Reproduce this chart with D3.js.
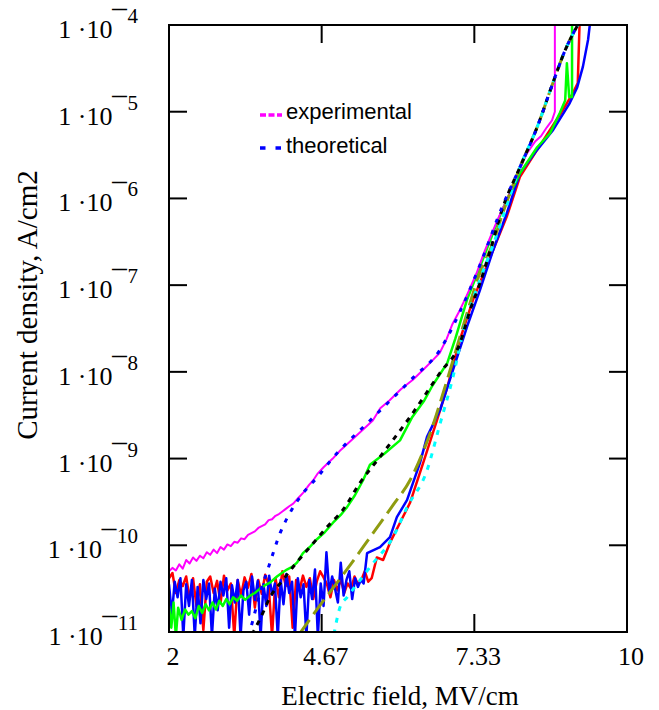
<!DOCTYPE html>
<html>
<title>Current density vs electric field</title>
<style>
  body { margin: 0px; background: white; }
  .frame { fill: none; stroke: black; stroke-width: 2; }
  .tick { stroke: black; stroke-width: 2; }
  .serif { font-family: "Liberation Serif", "Times New Roman", serif; fill: black; }
  .legend { font-family: "Liberation Sans", Arial, sans-serif; font-size: 22px; fill: black; }
  path.curve { fill: none; stroke-linejoin: round; }
</style>
<script src="https://d3js.org/d3.v7.min.js"></script>
<svg width="659" height="710"></svg>
<script>

// tick values
const xTickVals = [2, 4.6667, 7.3333, 10];
const xTickText = ["2", "4.67", "7.33", "10"];
const yTickExp = [-4, -5, -6, -7, -8, -9, -10, -11];

// data: [E (MV/cm), log10 J (A/cm2)]
const redExp = [
  [2.00,-10.38],[2.06,-10.32],[2.12,-10.55],[2.18,-10.40],[2.24,-10.47],[2.30,-10.36],
  [2.36,-10.62],[2.42,-10.38],[2.48,-10.70],[2.54,-10.45],[2.60,-10.98],[2.66,-10.42],
  [2.72,-10.36],[2.78,-10.55],[2.84,-10.41],[2.90,-10.67],[2.96,-10.35],[3.02,-10.52],
  [3.08,-10.44],[3.14,-11.05],[3.20,-10.40],[3.26,-10.58],[3.32,-10.37],[3.38,-10.49],
  [3.44,-10.33],[3.50,-10.72],[3.56,-10.40],[3.62,-10.56],[3.68,-10.34],[3.74,-10.45],
  [3.80,-11.05],[3.86,-10.38],[3.92,-10.60],[3.98,-10.30],[4.04,-10.47],[4.10,-10.36],
  [4.16,-10.95],[4.22,-10.40],[4.28,-10.52],[4.34,-10.35],[4.40,-10.48],[4.46,-10.38],
  [4.52,-10.62],[4.58,-10.42],[4.64,-10.30],[4.70,-10.37],[4.76,-10.45],[4.82,-10.60],
  [4.88,-10.40],[4.94,-10.52],[5.00,-10.39],[5.06,-10.55],[5.12,-10.44],[5.18,-10.50],
  [5.24,-10.36],[5.30,-10.45],[5.36,-10.40],[5.42,-10.30],[5.48,-10.42],[5.54,-10.38],
  [5.63,-10.14],[5.74,-10.17],[5.86,-9.97],[6.035,-9.74],[6.21,-9.51],[6.44,-9.05],
  [6.68,-8.56],[6.86,-8.18],[7.08,-7.63],[7.31,-7.17],[7.61,-6.68],[7.90,-6.21],
  [8.13,-5.75],[8.43,-5.44],[8.655,-5.21],[8.88,-4.98],[9.06,-4.78],[9.14,-4.67],
  [9.18,-3.80]
];

const blueExp = [
  [2.00,-10.45],[2.05,-10.80],[2.10,-10.42],[2.15,-10.60],[2.20,-10.38],[2.25,-11.05],
  [2.30,-10.45],[2.35,-10.70],[2.40,-10.40],[2.45,-11.05],[2.50,-10.48],[2.55,-10.90],
  [2.60,-10.40],[2.65,-10.62],[2.70,-10.44],[2.75,-11.05],[2.80,-10.50],[2.85,-10.75],
  [2.90,-10.42],[2.95,-10.58],[3.00,-10.38],[3.05,-10.95],[3.10,-10.46],[3.15,-10.66],
  [3.20,-10.40],[3.25,-11.05],[3.30,-10.52],[3.35,-10.42],[3.40,-10.80],[3.45,-10.36],
  [3.50,-10.63],[3.55,-10.41],[3.60,-11.05],[3.65,-10.45],[3.70,-10.70],[3.75,-10.35],
  [3.80,-10.57],[3.85,-10.44],[3.90,-11.05],[3.95,-10.40],[4.00,-10.68],[4.05,-10.33],
  [4.10,-10.55],[4.15,-10.42],[4.20,-11.05],[4.25,-10.38],[4.30,-10.60],[4.35,-10.45],
  [4.40,-11.05],[4.45,-10.40],[4.50,-10.62],[4.55,-10.28],[4.60,-11.05],[4.65,-10.44],
  [4.70,-10.70],[4.75,-10.08],[4.80,-10.55],[4.85,-10.36],[4.90,-10.50],[4.95,-10.66],
  [5.00,-10.20],[5.05,-10.58],[5.10,-10.40],[5.15,-10.30],[5.20,-10.62],[5.25,-10.38],
  [5.30,-10.48],[5.35,-10.40],[5.40,-10.44],
  [5.46,-10.09],[5.686,-10.02],[5.86,-9.905],[5.98,-9.675],[6.157,-9.48],[6.384,-9.05],
  [6.507,-8.75],[6.734,-8.44],[6.96,-7.98],[7.205,-7.48],[7.43,-7.06],[7.66,-6.60],
  [7.90,-6.17],[8.13,-5.71],[8.43,-5.44],[8.71,-5.21],[9.00,-4.90],[9.13,-4.72],
  [9.23,-4.48],[9.32,-4.17],[9.35,-4.00],[9.38,-3.80]
];

const greenExp = [
  [2.00,-10.70],[2.04,-10.95],[2.08,-10.66],[2.12,-11.05],[2.16,-10.72],[2.22,-10.86],
  [2.28,-10.74],[2.34,-10.80],[2.40,-10.76],[2.46,-10.84],[2.52,-10.70],[2.58,-10.78],
  [2.64,-10.68],[2.70,-10.75],[2.76,-10.66],[2.82,-10.74],[2.88,-10.64],[2.94,-10.70],
  [3.00,-10.62],[3.06,-10.68],[3.12,-10.60],[3.19,-10.64],[3.26,-10.58],[3.33,-10.63],
  [3.415,-10.58],[3.50,-10.55],[3.59,-10.50],[3.68,-10.46],[3.764,-10.43],[3.886,-10.36],
  [3.97,-10.32],[4.06,-10.28],[4.15,-10.25],[4.236,-10.20],[4.34,-10.09],[4.46,-10.02],
  [4.585,-9.93],[4.72,-9.85],[4.865,-9.74],[5.00,-9.65],[5.11,-9.56],[5.25,-9.42],
  [5.39,-9.25],[5.51,-9.07],[5.75,-8.95],[6.035,-8.79],[6.25,-8.52],[6.45,-8.34],
  [6.60,-8.16],[6.86,-7.90],[7.00,-7.62],[7.205,-7.17],[7.43,-6.79],[7.66,-6.40],
  [7.83,-6.12],[8.13,-5.71],[8.43,-5.41],[8.655,-5.25],[8.83,-5.01],[8.92,-4.87],
  [8.95,-4.44],[8.99,-4.83],[9.04,-4.83],[9.04,-3.80]
];

const magentaExp = [
  [2.00,-10.30],[2.06,-10.26],[2.12,-10.29],[2.18,-10.22],[2.24,-10.27],[2.30,-10.17],
  [2.36,-10.21],[2.42,-10.14],[2.48,-10.18],[2.54,-10.12],[2.60,-10.15],[2.66,-10.08],
  [2.72,-10.11],[2.78,-10.05],[2.84,-10.09],[2.90,-10.02],[2.96,-10.05],[3.02,-9.99],
  [3.08,-10.01],[3.14,-9.96],[3.20,-9.97],[3.26,-9.92],[3.32,-9.93],[3.38,-9.88],
  [3.44,-9.86],[3.50,-9.84],[3.56,-9.80],[3.62,-9.78],[3.68,-9.76],[3.74,-9.71],
  [3.80,-9.70],[3.86,-9.66],[3.92,-9.64],[3.98,-9.61],[4.04,-9.58],[4.10,-9.55],
  [4.17,-9.52],[4.25,-9.46],[4.35,-9.39],[4.45,-9.30],[4.52,-9.25],[4.60,-9.17],
  [4.70,-9.10],[4.86,-9.00],[5.00,-8.90],[5.20,-8.78],[5.40,-8.66],[5.56,-8.56],
  [5.69,-8.42],[5.85,-8.33],[6.05,-8.20],[6.26,-8.09],[6.45,-7.97],[6.60,-7.87],
  [6.73,-7.78],[6.85,-7.62],[6.95,-7.45],[7.08,-7.29],[7.20,-7.12],[7.30,-6.97],
  [7.38,-6.85],[7.50,-6.63],[7.61,-6.45],[7.75,-6.23],[7.90,-6.02],[8.05,-5.78],
  [8.25,-5.48],[8.40,-5.34],[8.50,-5.28],[8.60,-5.18],[8.69,-5.10],[8.74,-5.00],
  [8.74,-3.80]
];

const blueTheory = [
  [3.38,-11.05],[3.415,-10.98],[3.59,-10.55],[3.76,-10.21],[3.94,-9.86],[4.11,-9.63],
  [4.34,-9.40],[4.585,-9.22],[4.865,-8.99],[5.56,-8.53],[6.26,-8.07],[6.73,-7.75],
  [7.08,-7.31],[7.43,-6.77],[7.83,-6.08],[8.13,-5.64],[8.43,-5.18],[8.71,-4.66],
  [8.92,-4.29],[9.14,-4.00]
];

const blackTheory = [
  [3.45,-11.03],[3.64,-10.78],[3.764,-10.60],[3.99,-10.40],[4.166,-10.25],[4.463,-10.02],
  [4.76,-9.79],[5.04,-9.59],[5.336,-9.28],[5.686,-8.98],[6.21,-8.52],[6.734,-8.01],
  [7.083,-7.67],[7.258,-7.29],[7.43,-6.98],[7.61,-6.60],[7.834,-6.10],[8.13,-5.64],
  [8.43,-5.18],[8.71,-4.66],[8.92,-4.29],[9.14,-4.00]
];

const oliveTheory = [
  [4.27,-11.03],[4.64,-10.69],[5.04,-10.34],[5.51,-9.91],[5.91,-9.54],[6.21,-9.25],
  [6.56,-8.71],[6.86,-8.09],[7.135,-7.48],[7.43,-6.86],[7.66,-6.51],[7.83,-6.17],
  [8.13,-5.64],[8.43,-5.18],[8.71,-4.66],[8.92,-4.29],[9.14,-4.00]
];

const cyanTheory = [
  [4.88,-11.03],[4.99,-10.71],[5.11,-10.60],[5.34,-10.40],[5.56,-10.21],[5.91,-9.91],
  [6.16,-9.56],[6.51,-9.13],[6.73,-8.61],[6.96,-8.06],[7.135,-7.55],[7.43,-6.94],
  [7.66,-6.54],[7.90,-6.08],[8.13,-5.64],[8.43,-5.18],[8.71,-4.66],[8.92,-4.29],
  [9.14,-4.00]
];

const margin = {top: 25, right: 32, bottom: 78, left: 169};
const W = 659, H = 710;
const w = W - margin.left - margin.right;
const h = H - margin.top - margin.bottom;

const svg = d3.select("svg");

const x = d3.scaleLinear().domain([2, 10]).range([margin.left, margin.left + w]);
const y = d3.scaleLog().domain([1e-11, 1e-4]).range([margin.top + h, margin.top]);

svg.append("clipPath").attr("id", "plotclip")
  .append("rect")
    .attr("x", margin.left).attr("y", margin.top)
    .attr("width", w).attr("height", h);

const line = d3.line()
    .x(d => x(d[0]))
    .y(d => y(Math.pow(10, d[1])));

const smooth = d3.line()
    .curve(d3.curveMonotoneX)
    .x(d => x(d[0]))
    .y(d => y(Math.pow(10, d[1])));

const plot = svg.append("g").attr("clip-path", "url(#plotclip)");

function addCurve(data, gen, color, width, dash) {
  plot.append("path")
      .datum(data)
      .attr("class", "curve")
      .attr("d", gen)
      .style("stroke", color)
      .style("stroke-width", width)
      .style("stroke-dasharray", dash || null);
}

// experimental
addCurve(redExp, line, "#ff0000", 2.5);
addCurve(blueExp, line, "#0000ff", 2.5);
addCurve(greenExp, line, "#00ff00", 2.5);
addCurve(magentaExp, line, "#ff00ff", 2);

// theoretical
addCurve(oliveTheory, smooth, "#8f9c10", 3, "18,7");
addCurve(cyanTheory, smooth, "#00ffff", 3, "5,7");
addCurve(blackTheory, smooth, "#000000", 3, "5,6");
addCurve(blueTheory, smooth, "#0000ff", 3, "4,8");

// frame
svg.append("rect")
    .attr("class", "frame")
    .attr("x", margin.left).attr("y", margin.top)
    .attr("width", w).attr("height", h);

const tickLen = 18;
const ticks = svg.append("g");
xTickVals.forEach(v => {
  ticks.append("line").attr("class", "tick")
      .attr("x1", x(v)).attr("x2", x(v))
      .attr("y1", margin.top + h).attr("y2", margin.top + h - tickLen);
  ticks.append("line").attr("class", "tick")
      .attr("x1", x(v)).attr("x2", x(v))
      .attr("y1", margin.top).attr("y2", margin.top + tickLen);
});
yTickExp.forEach(e => {
  const yy = y(Math.pow(10, e));
  ticks.append("line").attr("class", "tick")
      .attr("x1", margin.left).attr("x2", margin.left + tickLen)
      .attr("y1", yy).attr("y2", yy);
  ticks.append("line").attr("class", "tick")
      .attr("x1", margin.left + w).attr("x2", margin.left + w - tickLen)
      .attr("y1", yy).attr("y2", yy);
});

// x tick labels
xTickVals.forEach((v, i) => {
  svg.append("text")
      .attr("class", "serif")
      .attr("x", x(v) + 4)
      .attr("y", margin.top + h + 33)
      .attr("text-anchor", "middle")
      .style("font-size", "26px")
      .text(xTickText[i]);
});

// y tick labels: 1·10 with raised exponent (long bar minus)
yTickExp.forEach(e => {
  const yy = y(Math.pow(10, e));
  const t = svg.append("text")
      .attr("class", "serif")
      .attr("x", 138)
      .attr("y", yy + 13)
      .attr("text-anchor", "end")
      .style("font-size", "26px");
  t.append("tspan").text("1 \u00b710");
  t.append("tspan")
      .style("font-size", "14px")
      .style("stroke", "black")
      .style("stroke-width", 0.9)
      .attr("dy", -25)
      .text("\u2014");
  t.append("tspan").style("font-size", "21px").attr("dx", 1).attr("dy", 10).text(-e);
});

// axis titles
svg.append("text")
    .attr("class", "serif")
    .attr("x", 400)
    .attr("y", 705)
    .attr("text-anchor", "middle")
    .style("font-size", "27px")
    .text("Electric field, MV/cm");

svg.append("text")
    .attr("class", "serif")
    .attr("transform", "translate(37,305) rotate(-90)")
    .attr("text-anchor", "middle")
    .style("font-size", "29px")
    .text("Current density, A/cm2");

// legend
const legend = svg.append("g");
[["experimental", "#ff00ff", "6,2.5", 115], ["theoretical", "#0000ff", "5.5,10", 148]].forEach(d => {
  legend.append("line")
      .attr("x1", 260).attr("x2", 282)
      .attr("y1", d[3]).attr("y2", d[3])
      .style("stroke", d[1])
      .style("stroke-width", 3.5)
      .style("stroke-dasharray", d[2]);
  legend.append("text")
      .attr("class", "legend")
      .attr("x", 286)
      .attr("y", d[3] + 4 + (d[3] > 120 ? 1 : 0))
      .text(d[0]);
});
</script>
</html>
